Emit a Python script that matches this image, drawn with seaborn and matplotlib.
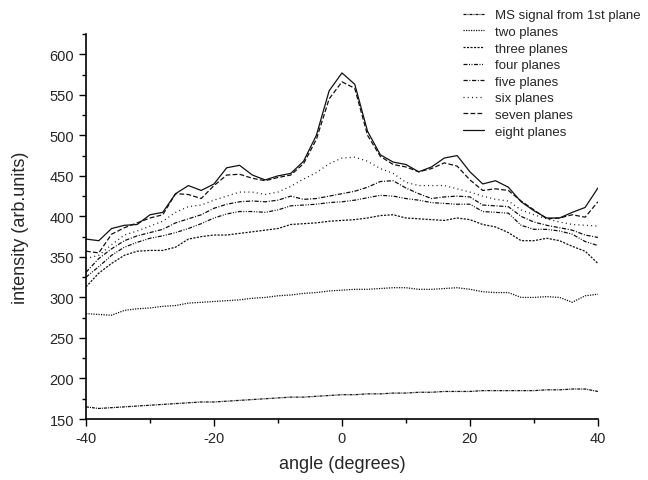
import numpy as np
import pandas as pd
import matplotlib
matplotlib.use("Agg")
import matplotlib.pyplot as plt
import seaborn as sns

angle = list(range(-40, 41, 2))

ms_signal = [165, 163, 164, 165, 166, 167, 168, 169, 170, 171, 171, 172, 173, 174, 175, 176, 177, 177, 178, 179, 180,
             180, 181, 181, 182, 182, 183, 183, 184, 184, 184, 185, 185, 185, 185, 185, 186, 186, 187, 187, 184]
two_planes = [280, 279, 278, 284, 286, 287, 289, 290, 293, 294, 295, 296, 297, 299, 300, 302, 303, 305, 306, 308, 309,
              310, 310, 311, 312, 312, 310, 310, 311, 312, 310, 307, 306, 306, 300, 300, 301, 300, 294, 302, 304]
three_planes = [313, 330, 342, 352, 357, 358, 358, 362, 372, 375, 377, 377, 379, 381, 383, 385, 390, 391, 392, 394, 395,
                396, 398, 401, 402, 398, 397, 396, 395, 398, 396, 390, 387, 380, 370, 370, 373, 370, 363, 357, 342]
four_planes = [325, 338, 352, 362, 368, 373, 376, 380, 385, 391, 398, 403, 406, 406, 405, 408, 413, 414, 415, 417, 418,
               420, 423, 426, 425, 422, 420, 417, 416, 415, 415, 406, 405, 404, 389, 384, 384, 382, 378, 369, 364]
five_planes = [331, 348, 360, 370, 376, 380, 384, 392, 397, 402, 410, 415, 418, 419, 418, 420, 425, 421, 422, 425, 428,
               431, 436, 443, 444, 435, 428, 422, 424, 425, 424, 414, 413, 412, 400, 393, 389, 386, 383, 377, 374]
six_planes = [348, 352, 365, 377, 382, 388, 394, 405, 412, 414, 420, 425, 430, 430, 427, 430, 437, 446, 454, 465, 472,
              473, 468, 459, 453, 442, 438, 438, 438, 434, 430, 425, 421, 419, 408, 402, 397, 393, 390, 389, 388]
seven_planes = [357, 355, 378, 386, 392, 398, 402, 428, 427, 422, 438, 451, 452, 447, 444, 448, 451, 465, 495, 545, 566,
                558, 500, 474, 464, 461, 455, 459, 466, 462, 445, 432, 434, 432, 419, 408, 397, 398, 402, 399, 418]
eight_planes = [372, 370, 385, 389, 390, 402, 405, 428, 438, 432, 440, 460, 463, 451, 445, 450, 453, 468, 500, 555, 577,
                563, 505, 476, 467, 464, 455, 461, 472, 475, 455, 440, 444, 436, 418, 407, 398, 398, 405, 411, 435]

names = ["MS signal from 1st plane", "two planes", "three planes", "four planes",
         "five planes", "six planes", "seven planes", "eight planes"]
series = [ms_signal, two_planes, three_planes, four_planes,
          five_planes, six_planes, seven_planes, eight_planes]
styles = [(0, (2.4, 0.8, 0.8, 0.8)),
          (0, (1.0, 1.0)),
          (0, (1.7, 1.1)),
          (0, (3.2, 1.2, 0.8, 1.2, 0.8, 1.2)),
          (0, (3.4, 1.3, 0.8, 1.3)),
          (0, (0.8, 2.6)),
          (0, (3.8, 1.8)),
          "-"]

sns.set_style("ticks")
plt.rcParams["font.family"] = ["Liberation Sans", "DejaVu Sans"]
plt.rcParams["axes.unicode_minus"] = False

fig = plt.figure(figsize=(6.48, 4.81), dpi=100)
ax = fig.add_axes([0.1327, 0.1268, 0.79, 0.8004])

for name, vals, ls in zip(names, series, styles):
    df = pd.DataFrame({"angle": angle, "intensity": vals})
    sns.lineplot(data=df, x="angle", y="intensity", ax=ax, color="#111111",
                 linewidth=0.9, linestyle=ls, label=name)

if ax.get_legend() is not None:
    ax.get_legend().remove()

ax.set_xlim(-40, 40)
ax.set_ylim(150, 625)
ax.set_xticks([-40, -20, 0, 20, 40])
ax.set_xticks([-30, -10, 10, 30], minor=True)
ax.set_yticks(np.arange(150, 601, 50))
ax.set_yticks(np.arange(175, 626, 50), minor=True)
ax.tick_params(which="major", direction="out", length=5, width=1, labelsize=10.5, color="black")
ax.tick_params(which="minor", direction="out", length=3, width=1, color="black")
ax.set_xlabel("angle (degrees)", fontsize=13, labelpad=7)
ax.set_ylabel("intensity (arb.units)", fontsize=13, labelpad=15)
sns.despine(ax=ax)
for s in ["left", "bottom"]:
    ax.spines[s].set_linewidth(1.2)
    ax.spines[s].set_color("black")

handles, labels = ax.get_legend_handles_labels()
fig.legend(handles, labels, loc="upper left", bbox_to_anchor=(0.7, 0.998),
           frameon=False, fontsize=9.5, handlelength=1.6, handletextpad=0.85,
           labelspacing=0.33, borderpad=0.2)

fig.savefig("out.png", dpi=100)
